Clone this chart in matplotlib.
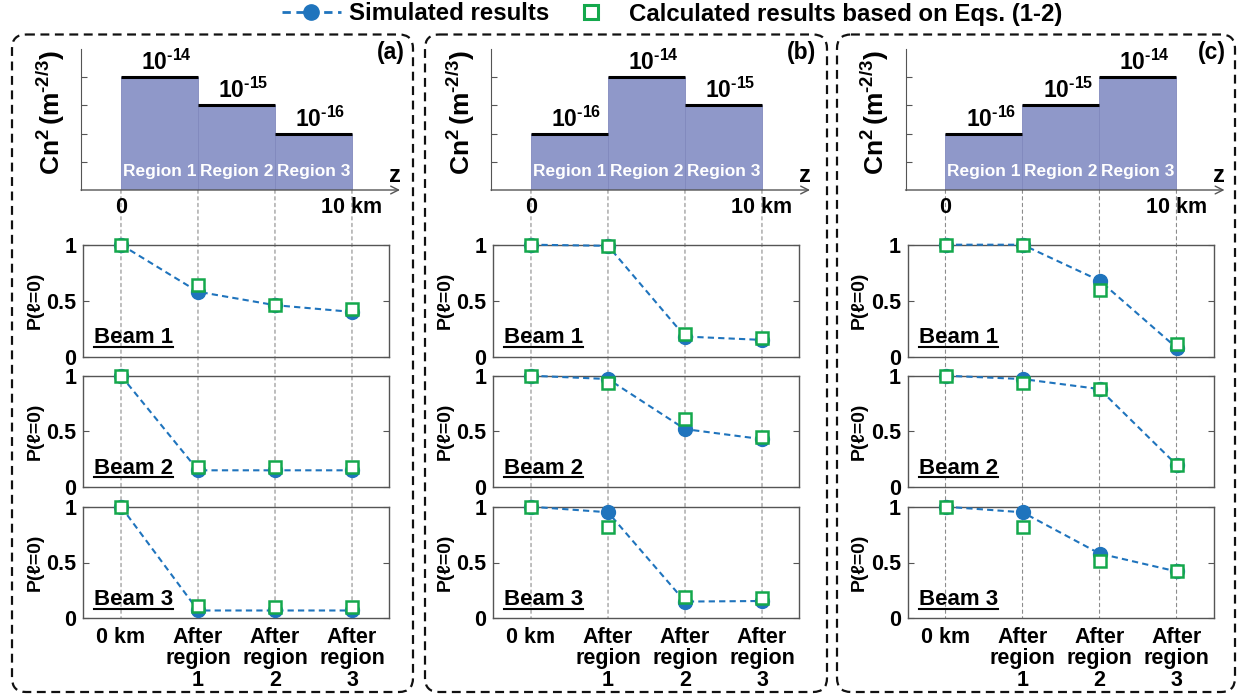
import matplotlib
matplotlib.use('Agg')
import matplotlib.pyplot as plt
from matplotlib.lines import Line2D
from matplotlib.patches import FancyBboxPatch, ConnectionPatch
from matplotlib.ticker import NullLocator
import numpy as np

plt.rcParams['font.family'] = ['Liberation Sans', 'DejaVu Sans']
plt.rcParams['font.weight'] = 'bold'
plt.rcParams['axes.labelweight'] = 'bold'
plt.rcParams['mathtext.fontset'] = 'custom'
plt.rcParams['mathtext.rm'] = 'Liberation Sans:bold'
plt.rcParams['mathtext.bf'] = 'Liberation Sans:bold'
plt.rcParams['mathtext.it'] = 'Liberation Sans:bold:italic'
plt.rcParams['mathtext.default'] = 'regular'

# ---------------- data ----------------
region_edges_km = [0, 10 / 3, 20 / 3, 10]
region_names = ['Region 1', 'Region 2', 'Region 3']
cn2_a = [1e-14, 1e-15, 1e-16]
cn2_b = [1e-16, 1e-14, 1e-15]
cn2_c = [1e-16, 1e-15, 1e-14]

positions = [0, 1, 2, 3]
position_labels = ['0 km', 'After\nregion\n1', 'After\nregion\n2', 'After\nregion\n3']
beam_names = ['Beam 1', 'Beam 2', 'Beam 3']

sim_a1 = [1, 0.58, 0.46, 0.40]
calc_a1 = [1, 0.64, 0.46, 0.43]
sim_a2 = [1, 0.15, 0.15, 0.15]
calc_a2 = [1, 0.18, 0.18, 0.18]
sim_a3 = [1, 0.07, 0.07, 0.07]
calc_a3 = [1, 0.11, 0.10, 0.10]

sim_b1 = [1, 0.99, 0.18, 0.15]
calc_b1 = [1, 0.99, 0.20, 0.17]
sim_b2 = [1, 0.97, 0.52, 0.43]
calc_b2 = [1, 0.93, 0.61, 0.45]
sim_b3 = [1, 0.95, 0.15, 0.155]
calc_b3 = [1, 0.82, 0.19, 0.185]

sim_c1 = [1, 1.0, 0.68, 0.08]
calc_c1 = [1, 1.0, 0.60, 0.11]
sim_c2 = [1, 0.97, 0.88, 0.20]
calc_c2 = [1, 0.93, 0.88, 0.20]
sim_c3 = [1, 0.95, 0.58, 0.42]
calc_c3 = [1, 0.82, 0.51, 0.42]

panel_letters = ['(a)', '(b)', '(c)']
legend_labels = ['Simulated results', 'Calculated results based on Eqs. (1-2)']

# ---------------- style ----------------
BLUE = '#1f74bd'
GREEN = '#14a84c'
BAR = '#8f98c9'
SPINE = '#555555'
GRID = '#8c8c8c'
HY = '\u2010'  # short hyphen for exponents

W, H = 1238, 698
fig = plt.figure(figsize=(W / 100, H / 100), dpi=100)


def frac(l, t, r, b):
    return [l / W, 1 - b / H, (r - l) / W, (b - t) / H]


bg = fig.add_axes([0, 0, 1, 1], zorder=-2)
bg.set_xlim(0, W)
bg.set_ylim(H, 0)
bg.axis('off')
bg.patch.set_alpha(0)

panels = [
    (cn2_a, [sim_a1, sim_a2, sim_a3], [calc_a1, calc_a2, calc_a3]),
    (cn2_b, [sim_b1, sim_b2, sim_b3], [calc_b1, calc_b2, calc_b3]),
    (cn2_c, [sim_c1, sim_c2, sim_c3], [calc_c1, calc_c2, calc_c3]),
]
dxs = [0, 410, 824.5]
box_l = [12, 425, 837]
box_r = [413, 827, 1235]
letter_x = [391, 802, 1212]
beam_tops = [244.7, 375.7, 506.7]
beam_bots = [356.7, 487.0, 618.3]

beam_texts = []
for p, (cn2, sims, calcs) in enumerate(panels):
    dx = dxs[p]
    # dashed rounded frame
    bg.add_patch(FancyBboxPatch((box_l[p], 34.5), box_r[p] - box_l[p], 657.5,
                                boxstyle='round,pad=0,rounding_size=14',
                                fill=False, ec='#111111', lw=1.6, ls=(0, (4, 2.5))))
    bg.text(letter_x[p], 52, panel_letters[p], ha='center', va='center', fontsize=16.5)

    # ---- Cn2 profile ----
    ax = fig.add_axes(frac(81 + dx, 49, 400 + dx, 190))
    ax.patch.set_alpha(0)
    ax.set_yscale('log')
    ax.set_xlim(-1.73, 12.08)
    ax.set_ylim(1e-18, 1e-13)
    edges = np.array(region_edges_km)
    widths = np.diff(edges)
    vals = np.array(cn2)
    ax.bar(edges[:-1], vals - 1e-18, width=widths, bottom=1e-18, align='edge',
           color=BAR, ec='#8189bd', lw=0.6, zorder=2)
    ax.hlines(vals, edges[:-1], edges[1:], colors='k', lw=2.2, zorder=3)
    for i, v in enumerate(vals):
        cx = (edges[i] + edges[i + 1]) / 2
        e = -int(round(np.log10(v)))
        ax.annotate(r'$10^{%s%d}$' % (HY, e), xy=(cx + 0.3, v), xytext=(0, 1.5),
                    textcoords='offset points', ha='center', va='bottom', fontsize=16.5)
        ax.text(cx, 0.13, region_names[i], transform=ax.get_xaxis_transform(),
                ha='center', va='center', color='white', fontsize=12.5, zorder=4)
    for s in ['top', 'right', 'bottom']:
        ax.spines[s].set_visible(False)
    ax.spines['left'].set_color(SPINE)
    ax.annotate('', xy=(1.0, 0), xycoords='axes fraction', xytext=(0, 0),
                arrowprops=dict(arrowstyle='->', color=SPINE, lw=1.0,
                                shrinkA=0, shrinkB=0, mutation_scale=14))
    ax.set_yticks([1e-17, 1e-16, 1e-15, 1e-14])
    ax.yaxis.set_minor_locator(NullLocator())
    ax.set_yticklabels([])
    ax.tick_params(axis='y', direction='in', length=4, color=SPINE)
    ax.set_xticks([0, 10])
    ax.set_xticklabels(['0', '10 km'])
    ax.tick_params(axis='x', length=0, pad=5, labelsize=15.5)
    ax.set_ylabel(r'$Cn^2\,(m^{%s2/3})$' % HY, fontsize=19)
    ax.yaxis.set_label_coords(-0.045, 0.55)
    ax.text(0.984, 0.106, 'z', transform=ax.transAxes, ha='center', va='center', fontsize=17)
    top_ax = ax

    # ---- beam panels ----
    beam_axes = []
    for j in range(3):
        bx = fig.add_axes(frac(83.3 + dx, beam_tops[j], 389 + dx, beam_bots[j]))
        bx.patch.set_alpha(0)
        bx.set_xlim(-0.49, 3.48)
        bx.set_ylim(0, 1)
        bx.plot(positions, sims[j], ls=(0, (3, 2)), color=BLUE, lw=1.5, marker='o',
                ms=10, mfc=BLUE, mec=BLUE, clip_on=False, zorder=3)
        bx.plot(positions, calcs[j], ls='none', marker='s', ms=8, mfc='white',
                mec=GREEN, mew=1.8, clip_on=False, zorder=4)
        bx.set_yticks([0, 0.5, 1])
        bx.set_yticklabels(['0', '0.5', '1'])
        bx.set_xticks(positions)
        bx.tick_params(axis='y', direction='in', length=4, left=True, right=True,
                       labelsize=15.5, pad=5, color=SPINE)
        bx.tick_params(axis='x', direction='in', length=0, labelsize=15.5, pad=6)
        if j < 2:
            bx.set_xticklabels([])
        else:
            bx.set_xticklabels(position_labels)
            for lbl in bx.get_xticklabels():
                lbl.set_linespacing(1.05)
        for s in bx.spines.values():
            s.set_color(SPINE)
            s.set_linewidth(1.0)
        bx.set_ylabel('P(ℓ=0)', fontsize=14)
        bx.yaxis.set_label_coords(-0.13, 0.5)
        t = bx.text(0.036, 0.167, beam_names[j], transform=bx.transAxes,
                    ha='left', va='center', fontsize=16)
        beam_texts.append((bx, t))
        beam_axes.append(bx)

    # vertical dashed guide lines from profile to the bottom panel
    for i in range(4):
        con = ConnectionPatch(xyA=(edges[i], 1e-18), coordsA=top_ax.transData,
                              xyB=(positions[i], 0), coordsB=beam_axes[2].transData,
                              color=GRID, lw=0.8, ls=(0, (3, 3)), zorder=-1)
        fig.add_artist(con)

# legend
handles = [Line2D([], [], color=BLUE, ls=(0, (3, 2)), lw=2, marker='o', ms=11,
                  mfc=BLUE, mec=BLUE),
           Line2D([], [], ls='none', marker='s', ms=10, mfc='white', mec=GREEN, mew=2.2)]
fig.legend(handles, legend_labels, loc='center', bbox_to_anchor=(672 / W, 1 - 14 / H),
           ncol=2, frameon=False, prop={'weight': 'bold', 'size': 17.3},
           handlelength=2.45, handletextpad=0.35, columnspacing=0.5)

# underline beam names
fig.canvas.draw()
for bx, t in beam_texts:
    bb = t.get_window_extent()
    inv = bx.transAxes.inverted()
    (x0, y0), (x1, y1) = inv.transform([[bb.x0, bb.y0], [bb.x1, bb.y1]])
    yy = y0 + 1.5 / (bx.bbox.height)
    bx.plot([x0, x1], [yy, yy], transform=bx.transAxes, color='k', lw=1.5,
            clip_on=False, zorder=5)

fig.savefig('out.png', dpi=100)
